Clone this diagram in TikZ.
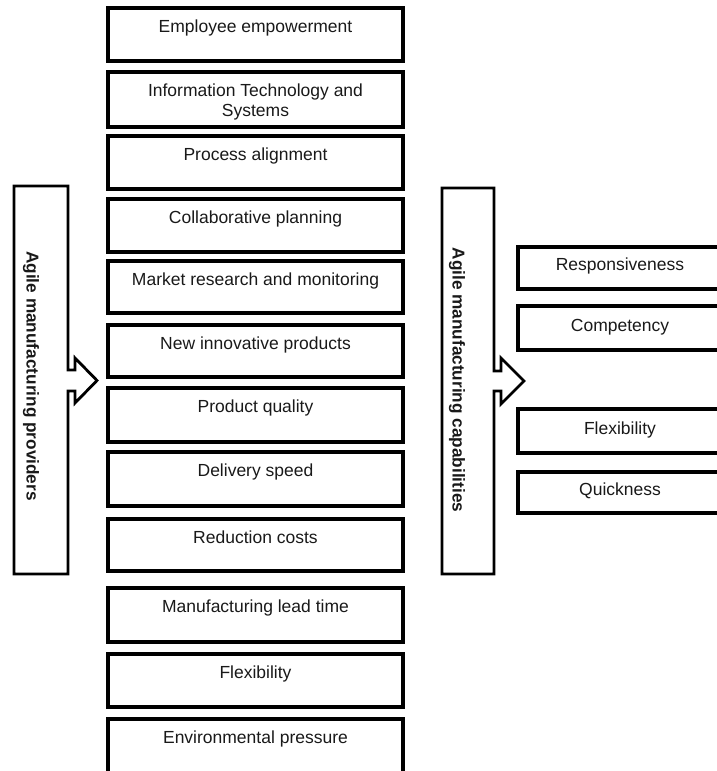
\documentclass[tikz,border=0pt]{standalone}
\usepackage{fontspec}
\setmainfont{Liberation Sans}
\begin{document}
\begin{tikzpicture}[x=1pt,y=-1pt,
  midbox/.style={draw=black, line width=3.2pt, minimum width=295pt, inner sep=0pt, outer sep=0pt, anchor=north},
  rbox/.style={draw=black, line width=3.2pt, minimum width=204pt, inner sep=0pt, outer sep=0pt, anchor=north west},
  lbl/.style={inner sep=0pt, text=black!90, font=\fontsize{17.5}{20}\selectfont},
  rotlbl/.style={inner sep=0pt, text=black!90, rotate=-90, font=\bfseries\fontsize{17.2}{20}\selectfont},
  arrowshape/.style={draw=black, line width=2.8pt, line join=miter}
]
\useasboundingbox (0,0) rectangle (716,771);

% middle column
\node[midbox, minimum height=53pt] (b1) at (255.5,8) {};
\node[midbox, minimum height=55pt] (b2) at (255.5,72) {};
\node[midbox, minimum height=53pt] (b3) at (255.5,136) {};
\node[midbox, minimum height=53pt] (b4) at (255.5,199) {};
\node[midbox, minimum height=52pt] (b5) at (255.5,261) {};
\node[midbox, minimum height=52pt] (b6) at (255.5,325) {};
\node[midbox, minimum height=54pt] (b7) at (255.5,388) {};
\node[midbox, minimum height=54pt] (b8) at (255.5,452) {};
\node[midbox, minimum height=52pt] (b9) at (255.5,519) {};
\node[midbox, minimum height=54pt] (b10) at (255.5,588) {};
\node[midbox, minimum height=53pt] (b11) at (255.5,654) {};
\node[midbox, minimum height=54pt] (b12) at (255.5,719) {};

\node[lbl, anchor=base] (t1) at ([yshift=-24pt]b1.north) {Employee empowerment};
\node[lbl, align=center] (t2) at ([yshift=-29.5pt]b2.north) {Information Technology and\\Systems};
\node[lbl, anchor=base] (t3) at ([yshift=-24pt]b3.north) {Process alignment};
\node[lbl, anchor=base] (t4) at ([yshift=-24pt]b4.north) {Collaborative planning};
\node[lbl, anchor=base] (t5) at ([yshift=-24pt]b5.north) {Market research and monitoring};
\node[lbl, anchor=base] (t6) at ([yshift=-24pt]b6.north) {New innovative products};
\node[lbl, anchor=base] (t7) at ([yshift=-24pt]b7.north) {Product quality};
\node[lbl, anchor=base] (t8) at ([yshift=-24pt]b8.north) {Delivery speed};
\node[lbl, anchor=base] (t9) at ([yshift=-24pt]b9.north) {Reduction costs};
\node[lbl, anchor=base] (t10) at ([yshift=-24pt]b10.north) {Manufacturing lead time};
\node[lbl, anchor=base] (t11) at ([yshift=-24pt]b11.north) {Flexibility};
\node[lbl, anchor=base] (t12) at ([yshift=-24pt]b12.north) {Environmental pressure};

% right column
\node[rbox, minimum height=42pt] (r1) at (518,247) {};
\node[rbox, minimum height=44pt] (r2) at (518,306) {};
\node[rbox, minimum height=44pt] (r3) at (518,409) {};
\node[rbox, minimum height=41pt] (r4) at (518,472) {};
\node[lbl, anchor=base] (s1) at (620,270) {Responsiveness};
\node[lbl, anchor=base] (s2) at (620,331) {Competency};
\node[lbl, anchor=base] (s3) at (620,434) {Flexibility};
\node[lbl, anchor=base] (s4) at (620,495) {Quickness};

% left block arrow
\coordinate (la) at (14,186);
\draw[arrowshape] (la) -- (68,186) -- (68,370) -- (75,370) -- (75,358) -- (97,380.5)
  -- (75,403) -- (75,391) -- (68,391) -- (68,574) -- (14,574) -- cycle;
\node[rotlbl] (lt) at (31,376) {Agile manufacturing providers};

% right block arrow
\coordinate (ra) at (442,188);
\draw[arrowshape] (ra) -- (494,188) -- (494,371) -- (501,371) -- (501,358) -- (524,381)
  -- (501,404) -- (501,391) -- (494,391) -- (494,574) -- (442,574) -- cycle;
\node[rotlbl] (rt) at (457,380) {Agile manufacturing capabilities};
\end{tikzpicture}
\end{document}
